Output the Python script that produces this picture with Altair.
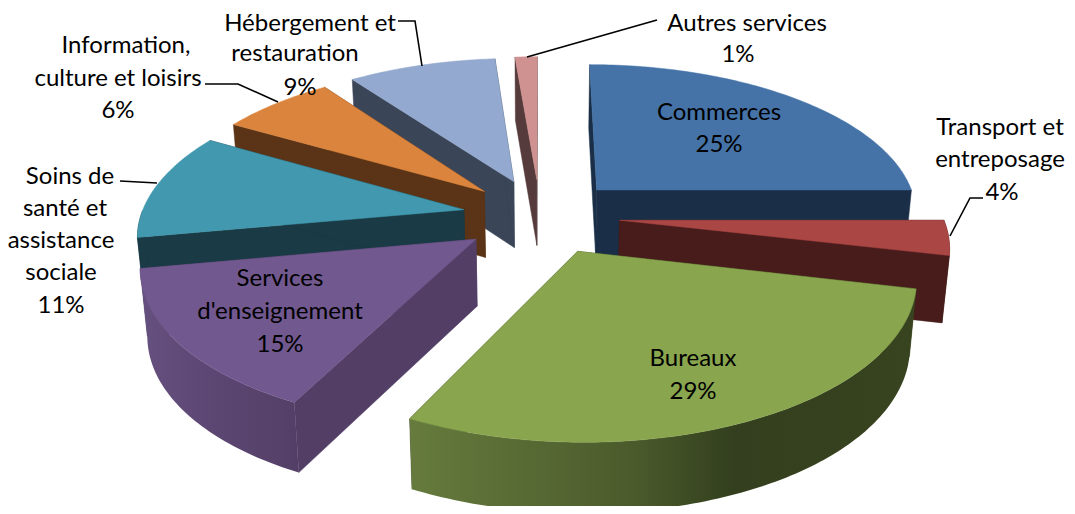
import math
import altair as alt

# ---- values (percent of the pie)
names = ["Commerces", "Transport et entreposage", "Bureaux", "Services d'enseignement",
         "Soins de santé et assistance sociale", "Information, culture et loisirs",
         "Hébergement et restauration", "Autres services"]
shares = [25.0, 3.6, 28.8, 14.7, 11.2, 6.7, 8.7, 1.3]
top_colors = ["#4573a7", "#aa4644", "#89a54e", "#71588f", "#4198af", "#db843d", "#93a9cf", "#cf9291"]
wall_colors = ["#1a2f47", "#471c1b", "#38431f", "#533f66", "#1a3a45", "#5b3417", "#3a4557", "#553b3b"]
draw_order = [7, 6, 5, 4, 0, 1, 3, 2]

# rim shading (left to right across each rim), where the rim is not a flat colour
rim_gradients = {
    2: [(0.0, "#667b3d"), (0.45, "#4a5a2b"), (0.64, "#333f1e"), (1.0, "#38431f")],
    3: [(0.0, "#65507f"), (0.5, "#5b4672"), (1.0, "#533f66")],
}

# ---- layout of the 3-D view
CX, CY, RX, RY, PERSP, DEPTH, EXPLODE, TAPER = 540, 216, 323, 151, 0.148, 66.5, 0.25, 0.018
nudge_x = [1, -1, 2, 2, 3, 3, 1, 0]

text_rows = [
    ("Commerces", 719, 113), ("25%", 719, 145),
    ("Transport et", 1000, 128), ("entreposage", 1000, 160), ("4%", 1002, 193),
    ("Bureaux", 693, 359), ("29%", 693, 392),
    ("Services", 280, 279), ("d'enseignement", 280, 312), ("15%", 280, 345),
    ("Soins de", 70, 177), ("santé et", 65, 209), ("assistance", 61, 241),
    ("sociale", 61, 273), ("11%", 61, 306),
    ("Information,", 126, 46), ("culture et loisirs", 118, 79), ("6%", 118, 111),
    ("Hébergement et", 310, 24), ("restauration", 295, 54), ("9%", 300, 88),
    ("Autres services", 747, 24), ("1%", 738, 55),
]
leaders = {
    "autres": [(527, 57), (657, 20)],
    "heberg": [(398, 21), (415, 21), (422, 66)],
    "info": [(205, 84), (238, 84), (278, 102)],
    "soins": [(120, 181), (157, 183)],
    "transport": [(950, 236), (970, 198), (983, 198)],
}


def project(u, v, z=0.0, dx=0.0):
    s = 1 / (1 - PERSP * v)
    x = CX + RX * u * s
    y = CY + RY * v * s + z * (0.7 + 0.3 * s)
    if z:
        x = CX + (x - CX) * (1 - TAPER)
    return [round(x + dx, 2), round(y, 2)]


def feature(ring, color):
    return {"type": "Feature", "properties": {"fill": color},
            "geometry": {"type": "Polygon", "coordinates": [ring + [ring[0]]]}}


PROJ = dict(type="identity", scale=1, translate=[-8, -8])


def solid(feats):
    return (alt.Chart(alt.Data(values=feats))
            .mark_geoshape(strokeWidth=0.5)
            .encode(fill=alt.Color("properties.fill:N", scale=None, legend=None),
                    stroke=alt.Color("properties.fill:N", scale=None, legend=None))
            .project(**PROJ))


def graded(feat, stops):
    grad = alt.LinearGradient(gradient="linear", x1=0, x2=1, y1=0, y2=0,
                              stops=[alt.GradientStop(offset=o, color=c) for o, c in stops])
    return (alt.Chart(alt.Data(values=[feat]))
            .mark_geoshape(fill=grad, stroke=None)
            .project(**PROJ))


total = sum(shares)
starts = [sum(shares[:i]) / total * 360 for i in range(len(shares))]
layers = []
for i in draw_order:
    a0, a1 = starts[i], starts[i] + shares[i] / total * 360
    mid = math.radians((a0 + a1) / 2)
    au, av = EXPLODE * math.sin(mid), -EXPLODE * math.cos(mid)
    dx = nudge_x[i]
    steps = max(3, int(a1 - a0))
    angs = [a0 + (a1 - a0) * k / steps for k in range(steps + 1)]
    pts = [(au + math.sin(math.radians(a)), av - math.cos(math.radians(a))) for a in angs]
    walls = []
    # radial cut faces
    for p in (pts[0], pts[-1]):
        walls.append(feature([project(au, av, 0, dx), project(*p, 0, dx),
                              project(*p, DEPTH, dx), project(au, av, DEPTH, dx)], wall_colors[i]))
    # outer rim: one polygon over the part of the arc that faces the viewer
    front = [p for a, p in zip(angs, pts) if 90 <= a <= 270]
    rim = None
    if len(front) >= 2:
        ring = [project(*p, 0, dx) for p in front] + [project(*p, DEPTH, dx) for p in reversed(front)]
        rim = feature(ring, wall_colors[i])
    if rim is not None and i not in rim_gradients:
        walls.append(rim)
    layers.append(solid(walls))
    if rim is not None and i in rim_gradients:
        layers.append(graded(rim, rim_gradients[i]))
    # top face
    layers.append(solid([feature([project(au, av, 0, dx)] + [project(*p, 0, dx) for p in pts], top_colors[i])]))

xs = alt.Scale(domain=[8, 1067])
ys = alt.Scale(domain=[506, 8])
leader_rows = [{"id": k, "o": j, "x": p[0], "y": p[1]} for k, v in leaders.items() for j, p in enumerate(v)]
lines = (
    alt.Chart(alt.Data(values=leader_rows))
    .mark_line(color="#000000", strokeWidth=1.6)
    .encode(x=alt.X("x:Q", scale=xs, axis=None), y=alt.Y("y:Q", scale=ys, axis=None),
            detail="id:N", order="o:Q")
)
text_data = [{"t": t, "x": x, "y": y} for t, x, y in text_rows]
labels = (
    alt.Chart(alt.Data(values=text_data))
    .mark_text(font="Lato", fontSize=24, color="#000000", align="center", baseline="middle")
    .encode(x=alt.X("x:Q", scale=xs, axis=None), y=alt.Y("y:Q", scale=ys, axis=None), text="t:N")
)

chart = (
    alt.layer(*layers, lines, labels)
    .properties(width=1059, height=498, padding=0, autosize=alt.AutoSizeParams(type="none"))
    .configure_view(stroke=None)
)
chart.save("out.html", embed_options={"renderer": "svg", "actions": False})
